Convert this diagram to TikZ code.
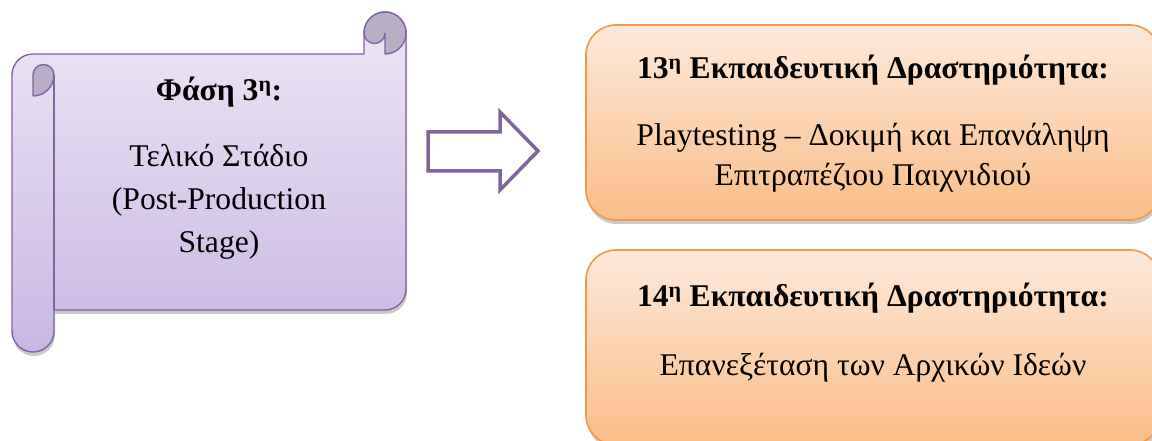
\documentclass[tikz,border=0pt]{standalone}
\usepackage{fontspec}
\setmainfont{Liberation Serif}
\usetikzlibrary{shadows}
\definecolor{scrollline}{HTML}{8064A2}
\definecolor{scrolltop}{HTML}{EDE7F6}
\definecolor{scrollbot}{HTML}{C9B7E4}
\definecolor{scrollknob}{HTML}{B8AFC7}
\definecolor{actline}{HTML}{F79646}
\definecolor{acttop}{HTML}{FDE9DA}
\definecolor{actbot}{HTML}{FBBD88}
\begin{document}
\begin{tikzpicture}[>=latex,line join=bevel,x=1bp,y=1bp,
  softshadow/.style={drop shadow={shadow xshift=1bp,shadow yshift=-4bp,opacity=0.3,fill=black!70}},
  scrollpaper/.style={draw=scrollline,line width=1.4bp,top color=scrolltop,bottom color=scrollbot},
  scrollcurl/.style={draw=scrollline,line width=1.4bp,fill=scrollknob},
  activity/.style={draw=actline,line width=1.6bp,rounded corners=30bp,top color=acttop,bottom color=actbot,softshadow},
  bigtext/.style={font=\rmfamily\fontsize{31.6bp}{43bp}\selectfont,align=center},
  boldtext/.style={font=\rmfamily\bfseries\fontsize{31.6bp}{43bp}\selectfont},
  blockarrow/.style={draw=scrollline,line width=3.5bp,fill=white,line join=miter},
]
\useasboundingbox (0,0) rectangle (1152,441);
%% scroll
\path [scrollpaper,softshadow] (33,387) -- (364,387) -- (364,408) arc[start angle=180,end angle=0,radius=21]
  -- (406,152) arc[start angle=0,end angle=-90,radius=21] -- (54,131) -- (54,110)
  arc[start angle=0,end angle=-180,radius=21] -- (12,366) arc[start angle=180,end angle=90,radius=21] -- cycle;
\path [scrollcurl] (385,387) -- (385,408) arc[start angle=0,end angle=-180,radius=10.5]
  arc[start angle=180,end angle=0,radius=21] arc[start angle=0,end angle=-90,radius=21] -- cycle;
\path [scrollcurl] (33,345) -- (33,366) arc[start angle=180,end angle=0,radius=10.5]
  arc[start angle=0,end angle=-90,radius=21] -- cycle;
\draw [draw=scrollline,line width=1.4bp] (54,366) -- (54,131);
\node (phase) at (219bp,349bp) [draw,draw=none,boldtext] {Φάση 3\textsuperscript{η}:};
\node (stage) at (219bp,239bp) [draw,draw=none,bigtext] {Τελικό Στάδιο\\(Post-Production\\Stage)};
%%
\draw [blockarrow] (428,309) -- (500,309) -- (500,329) -- (538,290) -- (500,251) -- (500,270) -- (428,270) -- cycle;
%% activities
\node (act13) at (873bp,318.5bp) [activity,minimum width=574bp,minimum height=195bp] {};
\node (act14) at (873bp,93.5bp) [activity,minimum width=574bp,minimum height=195bp] {};
\node (act13head) at (873bp,371bp) [draw,draw=none,boldtext] {13\textsuperscript{η} Εκπαιδευτική Δραστηριότητα:};
\node (act13text) at (873bp,283bp) [draw,draw=none,bigtext,font=\rmfamily\fontsize{31.6bp}{40bp}\selectfont] {Playtesting – Δοκιμή και Επανάληψη\\Επιτραπέζιου Παιχνιδιού};
\node (act14head) at (873bp,143bp) [draw,draw=none,boldtext] {14\textsuperscript{η} Εκπαιδευτική Δραστηριότητα:};
\node (act14text) at (873bp,73bp) [draw,draw=none,bigtext] {Επανεξέταση των Αρχικών Ιδεών};
%
\end{tikzpicture}
\end{document}
